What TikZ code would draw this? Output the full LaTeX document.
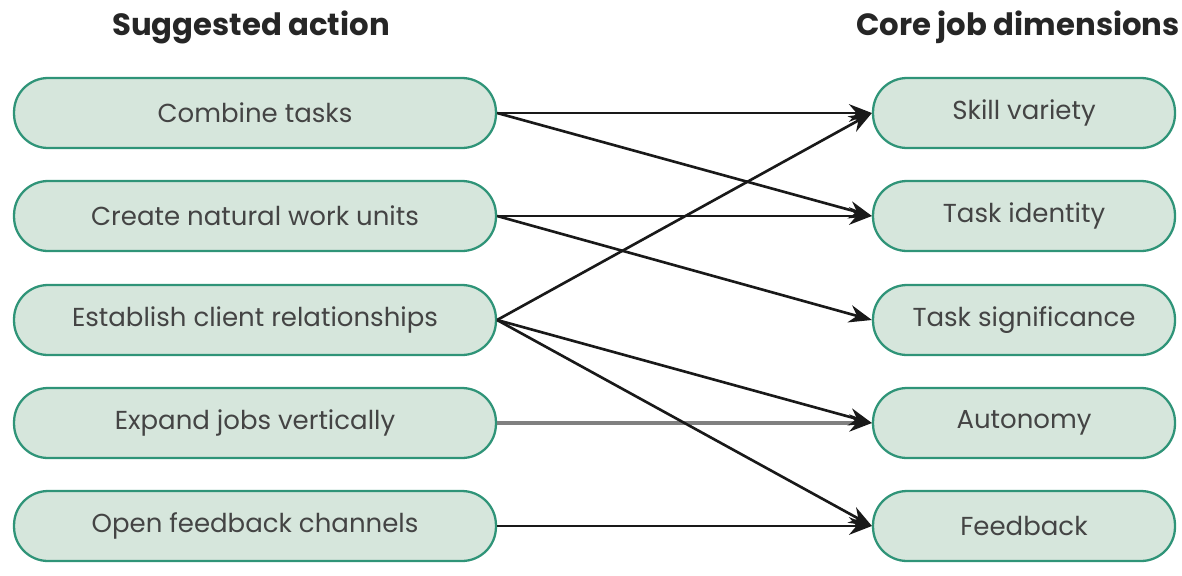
\documentclass[tikz,border=0pt]{standalone}
\usepackage{fontspec}
\setmainfont{Poppins}
\usetikzlibrary{arrows.meta}
\definecolor{boxfill}{HTML}{D6E6DC}
\definecolor{boxline}{HTML}{2F9478}
\definecolor{txt}{HTML}{444444}
\tikzset{pill/.style = {draw=boxline, fill=boxfill, line width=1.3pt, rounded corners=0.68cm,
    minimum height=1.4cm, text=txt, font=\fontsize{14.8}{18}\selectfont, inner sep=0pt},
  act/.style = {pill, minimum width=9.64cm},
  dim/.style = {pill, minimum width=6.04cm},
  head/.style = {font=\bfseries\fontsize{17.5}{20}\selectfont, text=black!85},
  link/.style = {line width=1.5pt, black!90, -{Stealth[length=13pt, width=10pt]}}}

\begin{document}
\begin{tikzpicture}[x=0.02cm, y=-0.02cm]
  \useasboundingbox (0,0) rectangle (1182,575);
  \node[head] (hl) at (251,27) {Suggested action};
  \node[head] (hr) at (1018,27) {Core job dimensions};
  % left column
  \node[act] (combine) at (255,113) {Combine tasks};
  \node[act] (natural) at (255,216) {Create natural work units};
  \node[act] (client)  at (255,320) {Establish client relationships};
  \node[act] (expand)  at (255,423) {Expand jobs vertically};
  \node[act] (open)    at (255,526) {Open feedback channels};
  % right column
  \node[dim] (skill)    at (1024,113) {Skill variety};
  \node[dim] (identity) at (1024,216) {Task identity};
  \node[dim] (signif)   at (1024,320) {Task significance};
  \node[dim] (auto)     at (1024,423) {Autonomy};
  \node[dim] (feed)     at (1024,526) {Feedback};
  % links
  \draw[black!50, line width=2.2pt, -{Stealth[length=13pt, width=10pt, black!90, line width=0pt]}]
    (expand.east) -- (auto.west);
  \draw[link] (combine.east) -- (skill.west);
  \draw[link] (combine.east) -- (identity.west);
  \draw[link] (natural.east) -- (identity.west);
  \draw[link] (natural.east) -- (signif.west);
  \draw[link] (client.east) -- (skill.west);
  \draw[link] (client.east) -- (auto.west);
  \draw[link] (client.east) -- (feed.west);
  \draw[link] (open.east) -- (feed.west);
\end{tikzpicture}
\end{document}
